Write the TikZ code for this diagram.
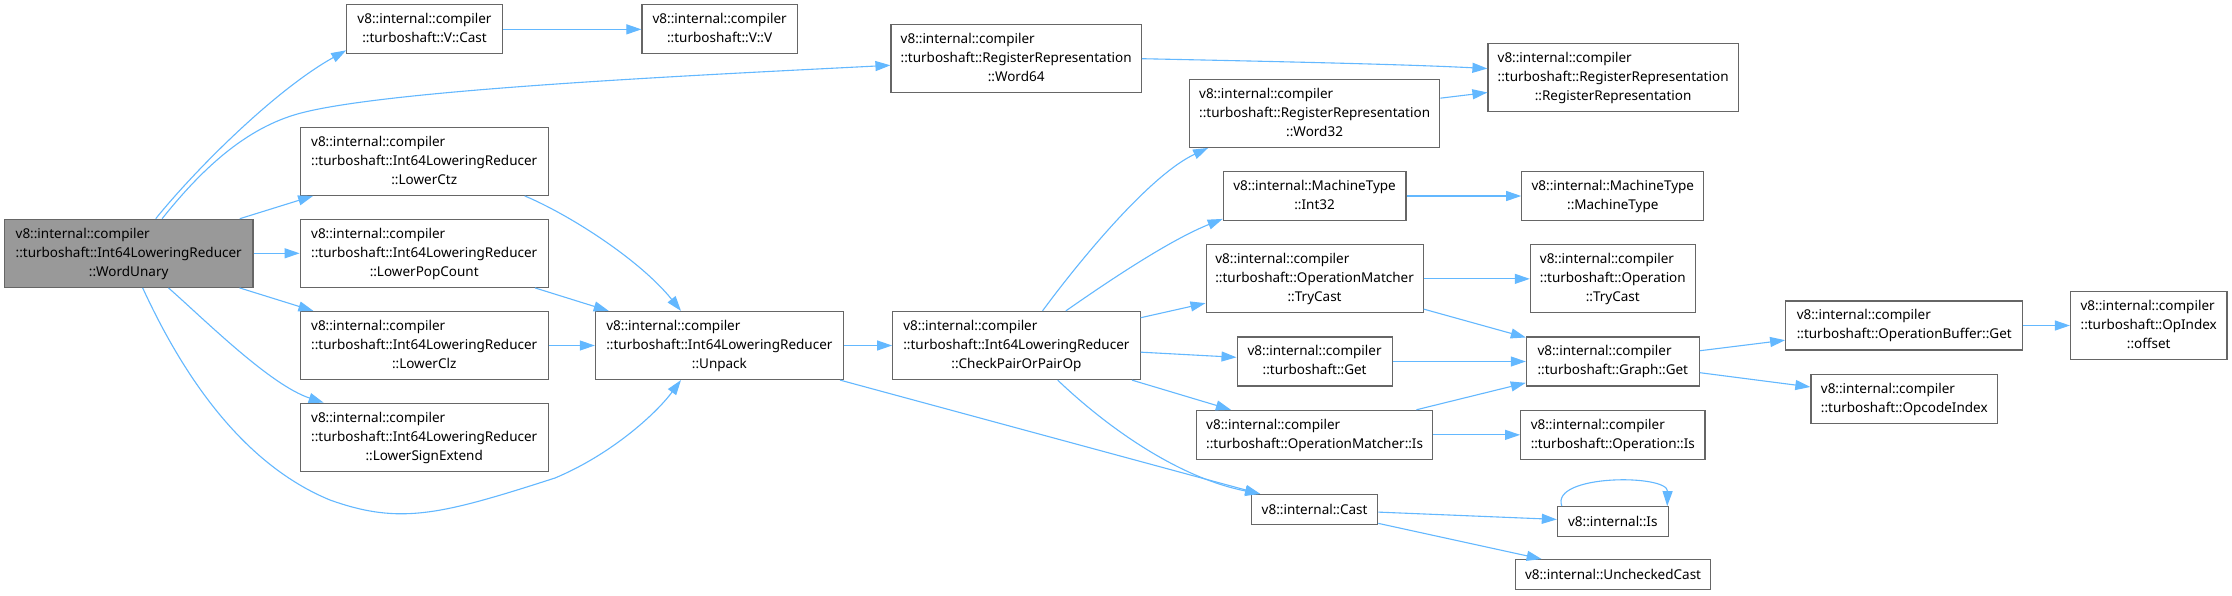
\documentclass[tikz,border=0pt]{standalone}
\usepackage{fontspec}
\setmainfont{Noto Sans}
\usetikzlibrary{arrows.meta}
\definecolor{edgec}{HTML}{63B8FF}
\definecolor{bord}{HTML}{666666}
\definecolor{rootf}{HTML}{999999}
\newcommand{\lab}[2]{\begin{tabular}{@{}l@{}}#1\\\multicolumn{1}{@{}c@{}}{#2}\end{tabular}}
\begin{document}
\begin{tikzpicture}[x=1pt,y=-1pt,
  box/.style={draw=bord, line width=1.2pt, fill=white, inner sep=0pt, font=\fontsize{13.5}{19}\selectfont},
  edge/.style={draw=edgec, line width=1.1pt, -{Triangle[length=15pt,width=10pt]}}]
\useasboundingbox[fill=white] (0,0) rectangle (2232,595);
% nodes
\node[box,fill=rootf,minimum width=248.6pt,minimum height=68pt] (wu) at (128.7,253.3) {\lab{v8::internal::compiler\\::turboshaft::Int64LoweringReducer}{::WordUnary}};
\node[box,minimum width=155.4pt,minimum height=49pt] (vcast) at (424.5,29.35) {\lab{v8::internal::compiler}{::turboshaft::V::Cast}};
\node[box,minimum width=155.3pt,minimum height=49pt] (vv) at (719.65,29.35) {\lab{v8::internal::compiler}{::turboshaft::V::V}};
\node[box,minimum width=250.3pt,minimum height=68pt] (w64) at (1016.15,58.7) {\lab{v8::internal::compiler\\::turboshaft::RegisterRepresentation}{::Word64}};
\node[box,minimum width=250.2pt,minimum height=68pt] (rr) at (1613.1,77.35) {\lab{v8::internal::compiler\\::turboshaft::RegisterRepresentation}{::RegisterRepresentation}};
\node[box,minimum width=250.2pt,minimum height=68pt] (w32) at (1314.6,113.35) {\lab{v8::internal::compiler\\::turboshaft::RegisterRepresentation}{::Word32}};
\node[box,minimum width=248pt,minimum height=68pt] (ctz) at (424.2,161.3) {\lab{v8::internal::compiler\\::turboshaft::Int64LoweringReducer}{::LowerCtz}};
\node[box,minimum width=248pt,minimum height=68pt] (pop) at (424.2,253.3) {\lab{v8::internal::compiler\\::turboshaft::Int64LoweringReducer}{::LowerPopCount}};
\node[box,minimum width=248pt,minimum height=68pt] (clz) at (424.2,345.5) {\lab{v8::internal::compiler\\::turboshaft::Int64LoweringReducer}{::LowerClz}};
\node[box,minimum width=248pt,minimum height=68pt] (sext) at (424.2,437.3) {\lab{v8::internal::compiler\\::turboshaft::Int64LoweringReducer}{::LowerSignExtend}};
\node[box,minimum width=248pt,minimum height=68pt] (unp) at (719.4,345.5) {\lab{v8::internal::compiler\\::turboshaft::Int64LoweringReducer}{::Unpack}};
\node[box,minimum width=247.4pt,minimum height=68pt] (cpo) at (1016.4,345.5) {\lab{v8::internal::compiler\\::turboshaft::Int64LoweringReducer}{::CheckPairOrPairOp}};
\node[box,minimum width=182.6pt,minimum height=49pt] (i32) at (1314.6,196) {\lab{v8::internal::MachineType}{::Int32}};
\node[box,minimum width=182pt,minimum height=49pt] (mt) at (1612.8,196) {\lab{v8::internal::MachineType}{::MachineType}};
\node[box,minimum width=217pt,minimum height=68pt] (omtc) at (1314.6,278.85) {\lab{v8::internal::compiler\\::turboshaft::OperationMatcher}{::TryCast}};
\node[box,minimum width=164.8pt,minimum height=68pt] (optc) at (1612.8,278.85) {\lab{v8::internal::compiler\\::turboshaft::Operation}{::TryCast}};
\node[box,minimum width=155pt,minimum height=49pt] (get) at (1314.6,361.5) {\lab{v8::internal::compiler}{::turboshaft::Get}};
\node[box,minimum width=172.8pt,minimum height=49pt] (gget) at (1612.8,361.5) {\lab{v8::internal::compiler}{::turboshaft::Graph::Get}};
\node[box,minimum width=236.4pt,minimum height=49pt] (omis) at (1314.6,434.85) {\lab{v8::internal::compiler}{::turboshaft::OperationMatcher::Is}};
\node[box,minimum width=184.2pt,minimum height=49pt] (opis) at (1612.8,434.85) {\lab{v8::internal::compiler}{::turboshaft::Operation::Is}};
\node[box,minimum width=126.2pt,minimum height=30pt] (cast) at (1314.6,509.5) {v8::internal::Cast};
\node[box,minimum width=110.8pt,minimum height=30pt] (is) at (1612.8,521.7) {v8::internal::Is};
\node[box,minimum width=195.1pt,minimum height=30pt] (uc) at (1613.05,574.65) {v8::internal::UncheckedCast};
\node[box,minimum width=237.1pt,minimum height=49pt] (obget) at (1904.25,325.5) {\lab{v8::internal::compiler}{::turboshaft::OperationBuffer::Get}};
\node[box,minimum width=156.4pt,minimum height=68pt] (opidx) at (2148.7,325.5) {\lab{v8::internal::compiler\\::turboshaft::OpIndex}{::offset}};
\node[box,minimum width=186.7pt,minimum height=49pt] (opcode) at (1904.25,399) {\lab{v8::internal::compiler}{::turboshaft::OpcodeIndex}};
% edges
\draw[edge] (wu.52.5) .. controls (195,170) and (275,90) .. (vcast.195);
\draw[edge] (wu.46.5) .. controls (205,165) and (250,125) .. (305,112) .. controls (400,89) and (700,75) .. (w64.183);
\draw[edge] (wu) -- (ctz);
\draw[edge] (wu) -- (pop);
\draw[edge] (wu) -- (clz);
\draw[edge] (wu.319.1) .. controls (205,320) and (270,385) .. (sext.161.3);
\draw[edge] (wu.292) .. controls (185,380) and (245,465) .. (330,500) .. controls (400,525) and (440,515) .. (555,478) .. controls (610,455) and (655,415) .. (unp.222.5);
\draw[edge] (vcast) -- (vv);
\draw[edge] (w64.-0.7) .. controls (1250,61) and (1400,64) .. (rr.176.6);
\draw[edge] (w32) -- (rr);
\draw[edge] (ctz.341.2) .. controls (570,215) and (640,260) .. (unp.138.3);
\draw[edge] (pop) -- (unp);
\draw[edge] (clz) -- (unp);
\draw[edge] (unp) -- (cpo);
\draw[edge] (unp.344.75) -- (cast.164.5);
\draw[edge] (cpo.53.2) .. controls (1080,260) and (1150,175) .. (w32.198.3);
\draw[edge] (cpo.35.8) .. controls (1110,280) and (1170,240) .. (i32.194.8);
\draw[edge] (cpo) -- (omtc);
\draw[edge] (cpo) -- (get);
\draw[edge] (cpo) -- (omis);
\draw[edge] (cpo.320.2) .. controls (1110,430) and (1180,478) .. (cast.164.5);
\draw[edge] (i32) -- (mt);
\draw[edge] (omtc) -- (optc);
\draw[edge] (omtc) -- (gget);
\draw[edge] (get) -- (gget);
\draw[edge] (omis) -- (gget);
\draw[edge] (omis) -- (opis);
\draw[edge] (gget) -- (obget);
\draw[edge] (gget) -- (opcode);
\draw[edge] (obget) -- (opidx);
\draw[edge] (cast) -- (is);
\draw[edge] (cast) -- (uc);
\draw[edge] (is.163.7) .. controls (1550,474) and (1668,474) .. (is.16.45);
\end{tikzpicture}
\end{document}
